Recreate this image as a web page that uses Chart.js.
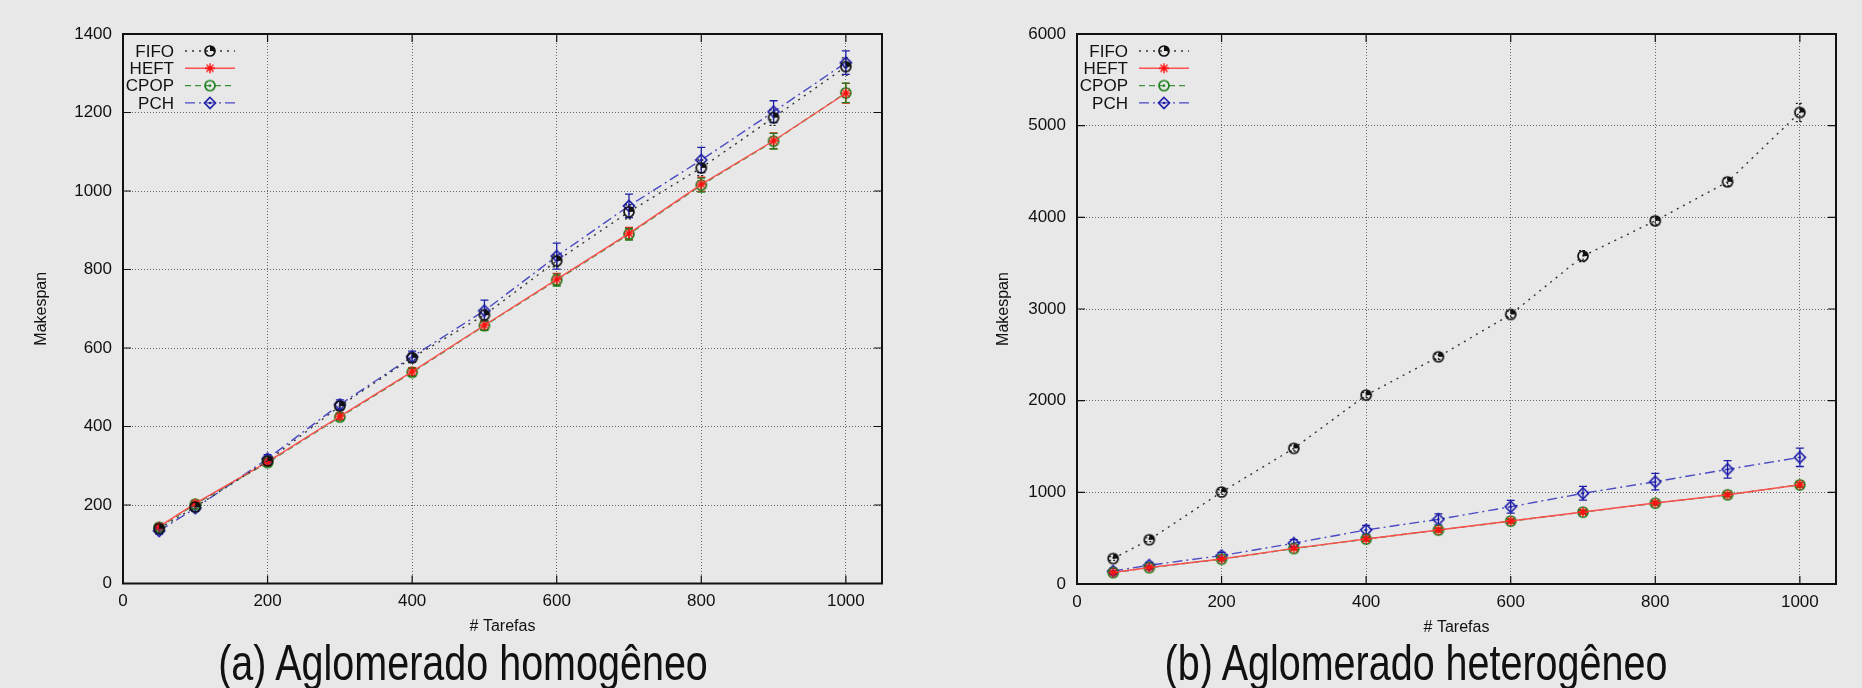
<!DOCTYPE html>
<html>
<head>
<meta charset="utf-8">
<script src="https://cdn.jsdelivr.net/npm/chart.js@4.4.1/dist/chart.umd.min.js"></script>
<style>
    html, body { margin: 0; padding: 0; background: #e8e8e8; }
    body { width: 1862px; height: 688px; position: relative; overflow: hidden; }
    canvas { position: absolute; top: 0; }
    #chartHom { left: 0; }
    #chartHet { left: 931px; }
    .caption {
        position: absolute; top: 638px; font: 50px/50px "Liberation Sans", Arial, sans-serif;
        color: #111; white-space: nowrap; transform: translateX(-50%) scaleX(0.79);
    }
</style>
</head>
<body>
<canvas id="chartHom" width="931" height="688"></canvas>
<canvas id="chartHet" width="931" height="688"></canvas>
<div class="caption" style="left:463px">(a) Aglomerado homogêneo</div>
<div class="caption" style="left:1416px">(b) Aglomerado heterogêneo</div>
<script>
// x values (number of tasks)
const taskCounts = [50, 100, 200, 300, 400, 500, 600, 700, 800, 900, 1000];
const xTicks = [0, 200, 400, 600, 800, 1000];
const seriesNames = ['FIFO', 'HEFT', 'CPOP', 'PCH'];

// (a) homogeneous cluster
const homFifo = [140, 195, 312, 452, 575, 684, 822, 947, 1059, 1187, 1317];
const homHeft = [145, 204, 310, 426, 540, 658, 775, 892, 1017, 1128, 1249];
const homCpop = [143, 202, 308, 424, 538, 657, 773, 890, 1015, 1127, 1250];
const homPch  = [134, 192, 318, 456, 578, 695, 834, 962, 1079, 1202, 1327];
const homFifoErr = [6, 6, 8, 10, 12, 15, 15, 18, 20, 20, 22];
const homHeftErr = [6, 6, 8, 8, 10, 12, 15, 15, 18, 20, 25];
const homCpopErr = [6, 6, 8, 8, 10, 12, 15, 15, 18, 20, 25];
const homPchErr  = [8, 8, 10, 12, 14, 27, 33, 30, 32, 28, 30];
const homYTicks = [0, 200, 400, 600, 800, 1000, 1200, 1400];

// (b) heterogeneous cluster
const hetFifo = [278, 483, 1003, 1480, 2061, 2479, 2941, 3577, 3962, 4387, 5144];
const hetHeft = [125, 180, 273, 389, 491, 589, 687, 785, 883, 974, 1083];
const hetCpop = [124, 178, 271, 387, 490, 588, 686, 784, 882, 973, 1082];
const hetPch  = [140, 205, 310, 445, 590, 705, 843, 989, 1116, 1251, 1382];
const hetFifoErr = [20, 20, 25, 30, 30, 30, 35, 60, 40, 40, 100];
const hetHeftErr = [15, 15, 15, 15, 20, 20, 20, 20, 20, 20, 25];
const hetCpopErr = [15, 15, 15, 15, 20, 20, 20, 20, 20, 20, 25];
const hetPchErr  = [30, 30, 35, 40, 50, 60, 70, 75, 90, 95, 100];
const hetYTicks = [0, 1000, 2000, 3000, 4000, 5000, 6000];

const FONT = '"Liberation Sans", Arial, sans-serif';

// small canvases used as gnuplot-like point markers
const makeMarker = (kind, color) => {
    const c = document.createElement('canvas');
    c.width = 14; c.height = 14;
    const g = c.getContext('2d');
    g.strokeStyle = color; g.fillStyle = color; g.lineWidth = 1.7;
    if (kind === 'pie') {
        g.beginPath(); g.arc(7, 7, 5, 0, Math.PI * 2); g.stroke();
        g.beginPath(); g.moveTo(7, 7); g.arc(7, 7, 5, -Math.PI / 2, 0); g.closePath(); g.fill();
    } else if (kind === 'star') {
        g.lineWidth = 1.4;
        g.beginPath();
        g.moveTo(2, 7); g.lineTo(12, 7);
        g.moveTo(7, 2); g.lineTo(7, 12);
        g.moveTo(3.5, 3.5); g.lineTo(10.5, 10.5);
        g.moveTo(10.5, 3.5); g.lineTo(3.5, 10.5);
        g.stroke();
    } else if (kind === 'circdot') {
        g.beginPath(); g.arc(7, 7, 5, 0, Math.PI * 2); g.stroke();
        g.beginPath(); g.arc(7, 7, 1.3, 0, Math.PI * 2); g.fill();
    } else if (kind === 'diadot') {
        g.beginPath(); g.moveTo(7, 1.5); g.lineTo(12.5, 7); g.lineTo(7, 12.5); g.lineTo(1.5, 7); g.closePath(); g.stroke();
        g.beginPath(); g.arc(7, 7, 1.3, 0, Math.PI * 2); g.fill();
    }
    return c;
};

const styles = [
    { color: '#222222', line: '#333333', dash: [2, 5], marker: makeMarker('pie', '#111111'), errDash: [2, 2] },
    { color: '#ff2020', line: '#ff5050', dash: [], marker: makeMarker('star', '#ff1010'), errDash: [] },
    { color: '#1a7f1a', line: '#3a8f3a', dash: [6, 4], marker: makeMarker('circdot', '#1a7f1a'), errDash: [] },
    { color: '#1c1ca8', line: '#4a4ac4', dash: [10, 4, 2, 4], marker: makeMarker('diadot', '#1c1ca8'), errDash: [] }
];

// error bars drawn from the y scale
const errorBars = {
    id: 'errorBars',
    beforeDatasetsDraw(chart) {
        const ctx = chart.ctx;
        const y = chart.scales.y;
        chart.data.datasets.forEach((ds, i) => {
            const meta = chart.getDatasetMeta(i);
            ctx.save();
            ctx.strokeStyle = ds.errColor;
            ctx.lineWidth = 1.3;
            ctx.setLineDash(ds.errDash);
            meta.data.forEach((pt, j) => {
                const v = ds.data[j].y, e = ds.errors[j];
                const top = y.getPixelForValue(v + e), bot = y.getPixelForValue(v - e);
                ctx.beginPath();
                ctx.moveTo(pt.x, top); ctx.lineTo(pt.x, bot);
                ctx.moveTo(pt.x - 4, top); ctx.lineTo(pt.x + 4, top);
                ctx.moveTo(pt.x - 4, bot); ctx.lineTo(pt.x + 4, bot);
                ctx.stroke();
            });
            ctx.restore();
        });
    }
};

// box frame with mirrored inward ticks, plus the gnuplot style key
const frameAndKey = {
    id: 'frameAndKey',
    afterDraw(chart) {
        const { ctx, chartArea: a, scales } = chart;
        ctx.save();
        ctx.strokeStyle = '#111';
        ctx.lineWidth = 1.2;
        ctx.beginPath();
        scales.x.ticks.forEach(t => {
            const px = scales.x.getPixelForValue(t.value);
            ctx.moveTo(px, a.bottom); ctx.lineTo(px, a.bottom - 8);
            ctx.moveTo(px, a.top); ctx.lineTo(px, a.top + 8);
        });
        scales.y.ticks.forEach(t => {
            const py = scales.y.getPixelForValue(t.value);
            ctx.moveTo(a.left, py); ctx.lineTo(a.left + 8, py);
            ctx.moveTo(a.right, py); ctx.lineTo(a.right - 8, py);
        });
        ctx.stroke();
        ctx.lineWidth = 2;
        ctx.strokeRect(a.left, a.top, a.right - a.left, a.bottom - a.top);

        // key
        ctx.font = '17px ' + FONT;
        ctx.textAlign = 'right';
        ctx.textBaseline = 'middle';
        chart.data.datasets.forEach((ds, i) => {
            const yy = a.top + 17 + i * 17.3;
            ctx.fillStyle = '#111';
            ctx.fillText(ds.label, a.left + 51, yy + 1);
            ctx.strokeStyle = ds.borderColor;
            ctx.lineWidth = 1.4;
            ctx.setLineDash(ds.borderDash);
            ctx.beginPath();
            ctx.moveTo(a.left + 62, yy); ctx.lineTo(a.left + 112, yy);
            ctx.stroke();
            ctx.setLineDash([]);
            ctx.drawImage(ds.pointStyle, a.left + 87 - 7, yy - 7);
        });
        ctx.restore();
    }
};

const buildDatasets = (series, errors) => series.map((values, i) => ({
    label: seriesNames[i],
    data: taskCounts.map((x, j) => ({ x, y: values[j] })),
    errors: errors[i],
    errColor: styles[i].color,
    errDash: styles[i].errDash,
    borderColor: styles[i].line,
    borderDash: styles[i].dash,
    borderWidth: 1.4,
    pointStyle: styles[i].marker,
    pointRadius: 6,
    tension: 0,
    fill: false
}));

const makeChart = (id, series, errors, yTicks, pad, yWidth) => {
    const yMax = yTicks[yTicks.length - 1];
    const yStep = yTicks[1] - yTicks[0];
    return new Chart(document.getElementById(id), {
        type: 'line',
        data: { datasets: buildDatasets(series, errors) },
        options: {
            responsive: false,
            animation: false,
            layout: { padding: pad },
            plugins: { legend: { display: false }, tooltip: { enabled: false } },
            scales: {
                x: {
                    type: 'linear', min: 0, max: 1050,
                    afterFit: s => { s.height = 57; },
                    afterBuildTicks: s => { s.ticks = xTicks.map(v => ({ value: v })); },
                    grid: { color: '#666', lineWidth: 1, drawTicks: false },
                    border: { display: false, dash: [1, 2] },
                    ticks: { color: '#111', padding: 8, font: { size: 17, family: FONT }, maxRotation: 0, callback: v => String(v) },
                    title: { display: true, text: '# Tarefas', color: '#111', font: { size: 16, family: FONT } }
                },
                y: {
                    min: 0, max: yMax,
                    afterFit: s => { s.width = yWidth; },
                    afterBuildTicks: s => { s.ticks = yTicks.map(v => ({ value: v })); },
                    grid: { color: '#666', lineWidth: 1, drawTicks: false },
                    border: { display: false, dash: [1, 2] },
                    ticks: { color: '#111', padding: 11, stepSize: yStep, font: { size: 17, family: FONT }, callback: v => String(v) },
                    title: { display: true, text: 'Makespan', color: '#111', font: { size: 16, family: FONT } }
                }
            }
        },
        plugins: [errorBars, frameAndKey]
    });
};

makeChart('chartHom',
    [homFifo, homHeft, homCpop, homPch],
    [homFifoErr, homHeftErr, homCpopErr, homPchErr],
    homYTicks, { left: 28, right: 49, top: 34, bottom: 47.5 }, 95);

makeChart('chartHet',
    [hetFifo, hetHeft, hetCpop, hetPch],
    [hetFifoErr, hetHeftErr, hetCpopErr, hetPchErr],
    hetYTicks, { left: 59, right: 26, top: 34, bottom: 47 }, 87);
</script>
</body>
</html>
